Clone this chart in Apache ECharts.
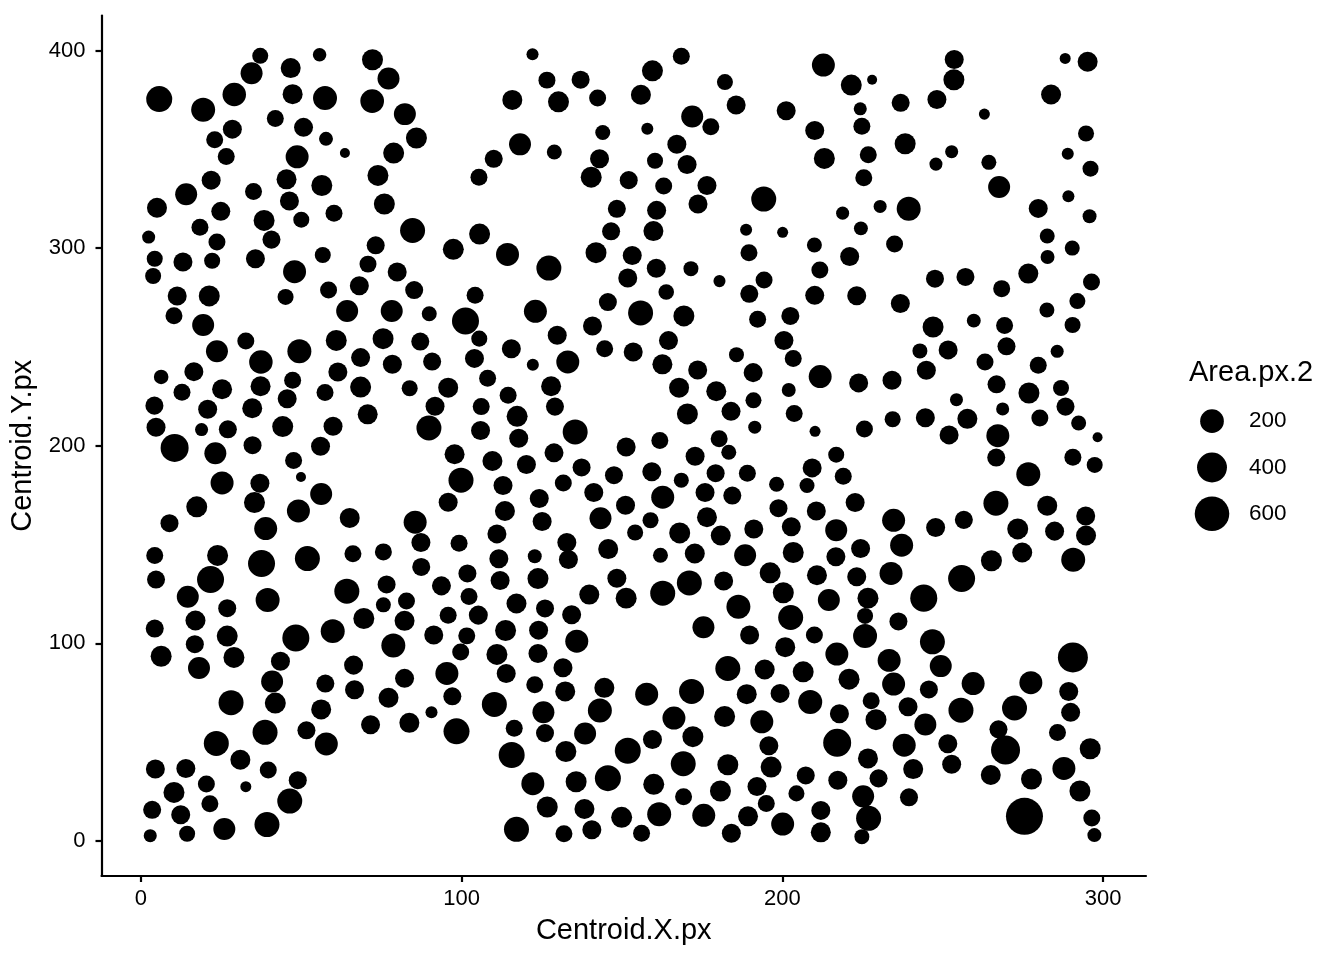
<!DOCTYPE html>
<html><head><meta charset="utf-8">
<style>html,body{margin:0;padding:0;background:#fff}#c{width:1344px;height:960px}</style>
<script src="https://cdn.jsdelivr.net/npm/echarts@6/dist/echarts.min.js"></script>
</head><body><div id="c"></div>
<script>
const xTicks=[0,100,200,300];
const yTicks=[0,100,200,300,400];
const legendAreas=[200,400,600];
// [Centroid.X.px, Centroid.Y.px, Area.px.2]
const cellsTopLeft=[[5.7,375.4,266],[19.4,370,208],[29.1,377.7,195],[34.5,388.5,158],[37.2,397.3,55],[46.7,391.1,116],[55.7,397.8,32],[72.2,395.3,136],[77.2,385.8,158],[47.3,377.9,116],[57.4,375.9,208],[72.1,374.4,200],[82.3,367.8,158],[41.9,365.6,67],[50.7,361.1,98],[57.7,355.3,35],[85.9,355.7,136],[28.5,360.2,98],[23,354.8,67],[26.6,346.4,67],[63.6,348.1,20],[48.7,346.2,182],[78.8,348.1,136],[73.9,336.8,136],[21.9,334.4,98],[45.4,334.8,116],[56.4,331.7,136],[14.1,327.3,158],[35.1,328.7,67],[5,320.4,116],[46.3,323.8,98],[75.9,322.3,136],[24.9,318.6,98],[60.2,317.7,67],[38.4,314,136],[50,314.4,55],[18.4,310.5,67],[2.4,305.6,29],[23.7,303.1,67],[40.7,304.3,82],[84.7,308.9,236],[73.2,301.4,82],[56.7,296.5,55],[4.3,294.6,55],[13.1,293,98],[22.2,293.6,55],[35.7,294.6,98],[70.8,291.9,67],[47.9,288.1,182],[79.9,287.9,98],[3.8,285.9,55],[68.1,281,98],[58.5,278.8,67],[85.2,278.8,82],[11.3,275.8,98],[21.3,275.8,136],[45.1,275.3,55]];
const cellsMidLeft=[[10.3,265.8,67],[19.4,261.1,158],[32.7,253,67],[23.7,247.8,158],[37.4,242.4,195],[49.4,247.8,208],[60.9,253.3,136],[75.5,254.2,136],[87.1,252.7,82],[68.5,244.6,98],[78.4,241.2,98],[90.8,242.6,82],[64.3,268.2,158],[78.2,268.2,158],[89.9,266.8,44],[6.3,234.8,40],[16.5,237.5,98],[61.4,237.3,98],[12.8,227.1,67],[25.3,228.6,116],[37.3,230.1,116],[47.3,233.1,67],[45.6,223.8,98],[57.4,226.9,67],[68.5,229.7,136],[83.8,229.1,55],[95.8,229.4,116],[4.2,220.3,82],[20.8,218.5,98],[34.7,219,116],[70.7,215.9,116],[91.7,220,98],[4.7,209.4,98],[18.9,208.2,29],[27.1,208.3,82],[44.2,209.7,136],[59.9,209.9,98],[89.8,209,236],[10.5,198.9,331],[23.2,196.2,158],[34.8,200.3,82],[56,199.7,98],[47.6,192.5,67],[97.8,195.7,116],[49.9,184.2,20],[25.3,181.2,182],[37.1,181,98],[56.2,175.6,158],[35.4,171.3,136],[49.1,167,182],[17.4,169.1,136],[65.1,163.5,116],[8.9,160.8,82],[38.9,158.1,182],[85.5,161.3,182],[95.8,171.4,98],[99.8,182.6,236],[87.3,151,98],[4.3,144.5,67],[23.9,144.5,136],[37.6,140.4,298],[51.9,142.9,236],[66.1,145.3,67],[75.6,146.3,67],[87.4,138.7,82]];
const cellsBottomLeft=[[4.7,132.3,82],[21.7,132.3,298],[14.6,123.6,158],[26.9,117.8,82],[39.5,122,208],[64.2,126.4,236],[76.6,129.8,82],[82.8,121.5,67],[75.6,119.5,44],[93.7,129.1,98],[17,111.6,116],[4.3,107.5,82],[69.5,112.6,136],[82.2,111.4,116],[95.8,114.2,67],[59.8,106.2,208],[48.3,102.7,298],[16.8,99.6,82],[26.9,103.7,136],[91.3,104.2,98],[78.7,98.9,208],[6.3,93.5,136],[18.1,87.5,158],[29,92.9,136],[43.5,91,98],[66.3,89,98],[40.9,80.7,158],[57.5,79.7,82],[66.6,76.5,98],[82.2,82.3,98],[95.4,84.8,182],[97.1,73.2,82],[77.2,72.5,116],[28.1,70,236],[41.9,69.8,136],[56.2,66.6,116],[90.6,65.2,24],[71.6,58.8,98],[83.7,59.8,116],[98.4,55.5,266],[38.7,55,236],[51.6,56,82],[57.8,49.1,182],[23.5,49.4,236],[31,41.1,116],[4.5,36.4,98],[14,36.7,98],[39.7,35.9,67],[20.4,28.8,67],[10.3,24.6,136],[48.9,30.8,82],[32.7,27.5,21],[46.4,20.2,236],[3.5,15.8,82],[21.5,18.9,67],[12.4,13.3,98],[26,6.1,158],[39.3,8.3,236],[2.9,2.7,29],[14.4,3.7,55]];
const cellsTopCentre=[[122.1,398.1,24],[126.6,385,67],[137.1,385.2,82],[115.8,375,116],[130.2,374,136],[142.4,376,67],[159.5,389.7,136],[168.5,397.1,67],[182.1,384,55],[155.9,377.6,116],[171.9,366.6,158],[177.7,361.4,67],[185.6,372.4,98],[201.2,369.5,98],[144,358.5,44],[157.9,360.4,24],[118.2,352.5,158],[128.9,348.6,44],[143,345.2,98],[110,345.2,82],[105.4,335.8,67],[140.4,335.9,136],[152.1,334.4,82],[167.1,352.6,98],[160.3,344.2,55],[170.3,342.3,98],[163,331.4,67],[176.5,331.7,98],[173.7,322.3,98],[194.2,324.8,236],[148.4,319.9,82],[160.8,319.1,98],[146.6,308.5,82],[159.8,308.6,116],[188.7,309.3,24],[200.1,308,21],[189.6,297.7,67],[105.6,307.1,136],[97.4,299.4,136],[114.3,296.8,182],[127.2,289.9,236],[141.9,297.7,136],[153.2,296.3,98],[160.7,289.8,98],[171.5,289.6,44],[151.8,284.9,98],[163.8,277.8,50],[180.4,283.3,24],[194.3,283.9,67],[189.7,276.9,82],[104.2,276.1,67],[145.6,272.7,82]];
const cellsMidCentre=[[101.2,263.1,298],[123,268,182],[155.8,267.2,236],[169.3,265.7,136],[140.8,260.6,98],[105.5,254.2,55],[115.5,249.1,98],[129.8,255.9,98],[144.6,249.1,67],[164.5,253.2,98],[153.5,247.4,98],[104,244.2,98],[122.2,241,24],[133.1,242.4,182],[162.6,241.2,116],[173.6,238.3,98],[185.7,246.1,44],[192.3,264,67],[202.5,265.7,82],[200.5,253.3,98],[203.4,244.1,67],[190.9,237,98],[108.1,234.1,67],[127.9,230.1,116],[114.5,225.5,67],[167.8,229.4,116],[179.4,227.6,116],[191,223,55],[202,228.2,35],[106.1,219.8,67],[129.1,219.8,82],[117.3,214.9,136],[170.4,216.1,136],[184,217.4,98],[203.7,216.3,67],[191.4,209.4,29],[105.9,207.7,98],[117.8,203.8,98],[135.4,207,236],[151.3,199.4,98],[161.8,202.6,67],[180.3,203.5,67],[183.3,196.7,44],[172.8,194.7,98],[109.6,192.3,116],[128.8,196.4,98],[120.2,190.5,98],[137.4,189,82],[147.5,185.1,82],[159.3,186.8,98],[168.5,182.6,44],[179.2,186.1,82],[189.1,186.1,67],[198.2,180.5,44],[112.9,179.9,98],[131.7,181.2,67],[141.2,176.3,98],[162.7,174,182],[175.9,176.3,98],[184.4,174.8,82],[124.2,173.3,98],[151.1,169.9,98],[113.5,167,116],[198.8,168.4,82],[143.3,163.3,158],[158.9,162.3,55],[176.5,163.8,116],[125.1,161.7,98],[191.1,157.9,98],[202.8,159,98],[111,155.4,98],[154.1,156.1,55],[168,155.9,136],[180.8,154.6,116],[99.2,150.7,67],[132.8,151,98],[145.7,147.7,116],[162,144.6,44],[172.7,145.5,116],[188.4,144.6,158],[203.4,146,136],[111.6,142.8,98],[122.8,144.1,35],[133.3,142.4,98],[101.8,135.4,82]];
const cellsBottomCentre=[[112,131.8,98],[123.8,132.8,136],[148.4,133,98],[162.7,125.4,236],[171,130.6,236],[181.7,131.6,98],[196.2,135.7,136],[102.3,123.7,67],[117.1,120.2,116],[126,117.7,82],[139.8,124.7,116],[151.3,122.9,136],[134.3,114.5,98],[105.2,114.3,98],[186.3,118.5,208],[200.3,125.6,136],[202.6,113.1,236],[175.4,108.2,158],[113.7,106.5,136],[124,106.7,98],[101.6,103.8,67],[189.8,104.2,98],[135.9,101.1,182],[99.7,95.6,67],[111,94.4,136],[123.8,94.9,98],[200.9,98.1,116],[131.6,87.7,98],[183,87.3,236],[194.5,86.8,116],[206.5,85.6,136],[113.9,84.8,98],[122.8,79.1,67],[132.3,75.7,116],[144.5,77.5,116],[157.7,74.3,182],[171.7,75.7,236],[188.9,74.3,116],[199.3,74.7,98],[110.2,69.1,236],[125.5,65.2,158],[143.1,66,208],[166.2,62.2,182],[182,63,136],[193.6,60.3,182],[116.4,57,67],[126,54.6,82],[138.5,54.4,158],[172.1,52.8,136],[159.5,51.4,98],[195.8,48.2,98],[115.6,43.5,266],[132.5,45.3,136],[151.8,45.7,266],[169.1,39.1,236],[183,38.6,136],[196.5,37.4,136],[122.2,29,182],[135.7,30,136],[145.6,31.8,266],[159.9,28.7,136],[180.7,25.3,136],[192.1,27.6,98],[204.4,24.1,55],[169.2,22.4,67],[195,19,67],[126.7,17.2,136],[138.3,16.2,116],[161.6,13.5,208],[149.9,12,136],[175.5,13,182],[189.3,12.5,116],[200.1,8.6,182],[117.1,5.9,236],[131.9,3.7,67],[140.6,5.7,98],[156.1,3.9,67],[184.1,3.9,98]];
const cellsTopRight=[[212.8,392.6,182],[221.5,382.5,136],[228,385.2,20],[253.6,395.4,98],[253.5,385.2,136],[248.2,375.2,98],[236.9,373.5,82],[224.3,370.5,29],[224.8,361.7,67],[210.1,359.5,98],[288.2,396,21],[295.2,394.3,116],[283.8,377.7,116],[263,367.8,21],[294.7,358,55],[238.3,352.8,136],[226.8,347.2,67],[213.1,345.4,136],[225.4,335.6,67],[252.8,348.8,29],[247.9,342.5,29],[264.4,343.4,44],[289,347.7,24],[296.1,340.2,55],[267.6,330.9,158],[239.4,319.9,208],[289.2,326.2,24],[218.8,317.7,29],[230.5,321.1,29],[279.8,320.1,98],[295.8,316.1,35],[224.5,310,35],[282.6,306.1,44],[290.4,300,44],[210,301.6,44],[235,302.1,67],[221,295.8,98],[282.7,295.5,35],[211.7,288.9,67],[247.6,284.5,82],[257.1,285.4,82],[276.7,287.1,116],[296.4,282.8,67],[268.4,279.5,67],[210.1,276.1,98],[223.2,275.9,98],[236.8,272,98],[292,273.2,55]];
const cellsMidRight=[[282.5,268.7,44],[247,260.1,136],[259.7,263.3,35],[269.3,260.8,67],[290.5,261.1,55],[242.9,248,44],[251.7,248.5,98],[269.9,250.3,82],[285.7,247.8,29],[263.2,242.4,67],[279.8,240.7,67],[244.9,238.2,98],[211.8,235,182],[223.8,231.8,98],[234.2,233.1,98],[266.8,231.1,82],[276.9,226.7,136],[286.9,229.2,55],[254.3,223.3,29],[288.3,219.8,82],[268.7,218.6,29],[257.7,213.6,116],[244.6,214.2,98],[234.4,213.4,55],[280.3,214.1,67],[292.4,211.5,44],[225.6,208.5,67],[210.2,207.3,21],[252,205.5,98],[267.2,205.1,182],[298.3,204.3,20],[216.8,195.5,55],[266.7,194,82],[290.6,194.2,67],[209.3,188.8,98],[297.4,190.3,55],[276.7,185.6,208],[219,184.6,67],[207.7,179.9,44],[266.6,170.9,236],[282.6,169.7,116],[222.7,171.3,98],[210.6,167,98],[294.6,164.5,98],[234.7,162.3,182],[256.6,162.5,82],[247.8,158.6,98],[273.4,157.9,136],[284.9,156.8,98],[294.7,154.6,116],[216.8,157.3,158],[237.2,149.7,182],[224.4,148,98],[216.7,143.8,98],[274.8,146,116],[265.2,141.8,136],[290.7,142.3,208],[210.8,134.5,116],[223.2,133.7,98],[233.9,135.4,182],[255.9,132.8,298]];
const cellsBottomRight=[[214.5,122,158],[226.7,122.9,136],[244.1,122.9,298],[225.8,113.9,55],[236.2,111.1,82],[210,104.2,67],[225.8,103.7,208],[246.8,100.8,236],[217,94.6,182],[233.3,91.4,182],[249.4,88.5,158],[290.6,92.9,404],[220.8,81.9,136],[234.7,79.4,182],[259.5,79.7,182],[277.5,80.1,182],[245.7,76.7,82],[289.3,75.7,98],[208.7,70.3,208],[227.7,71,67],[239.2,67.9,98],[255.7,66.2,236],[272.4,67.3,236],[289.9,65.1,98],[217.8,64.4,98],[229.2,61.4,136],[244.6,59,158],[267.4,56.5,82],[217.1,49.7,331],[238,48.5,182],[251.6,49.2,98],[285.8,54.9,67],[269.6,46,367],[296,46.7,136],[226.7,41.8,116],[252.8,38.8,98],[240.8,36.4,116],[287.8,36.7,182],[207.3,33.2,82],[217.3,30.7,98],[230,31.7,82],[265,33.4,116],[277.7,31.4,136],[292.8,25.3,136],[225.2,22.6,158],[239.5,22.1,82],[212,15.5,98],[226.9,11.5,236],[275.5,12.5,720],[296.5,11.6,67],[212,4.4,116],[224.8,2.2,44],[297.3,3,35]];

const allCells=[].concat(cellsTopLeft,cellsMidLeft,cellsBottomLeft,cellsTopCentre,cellsMidCentre,cellsBottomCentre,cellsTopRight,cellsMidRight,cellsBottomRight);
const sizeOf=a=>10+1.02*Math.sqrt(Math.max(a-20,0));
const FONT='"Liberation Sans", Arial, sans-serif';
const chart=echarts.init(document.getElementById('c'),null,{renderer:'canvas'});
chart.setOption({
  animation:false,
  backgroundColor:'#fff',
  textStyle:{fontFamily:FONT,color:'#000'},
  title:{text:'Area.px.2',left:1189,top:358,padding:0,textStyle:{fontFamily:FONT,fontSize:29,fontWeight:'normal',color:'#000'}},
  grid:[
    {left:101.5,top:15.5,width:1044.5,height:860.5},
    {left:1190,top:398,width:44,height:139}
  ],
  xAxis:[
    {type:'value',gridIndex:0,min:-12.3,max:313.4,name:'Centroid.X.px',nameLocation:'middle',nameGap:40,
     nameTextStyle:{fontFamily:FONT,fontSize:29,color:'#000'},
     axisLine:{onZero:false,lineStyle:{color:'#000',width:2.2}},
     axisTick:{show:true,length:6,customValues:xTicks,lineStyle:{color:'#000',width:2.2}},
     axisLabel:{show:true,customValues:xTicks,margin:12,fontFamily:FONT,fontSize:22,color:'#000'},
     splitLine:{show:false}},
    {type:'value',gridIndex:1,min:0,max:1,show:false}
  ],
  yAxis:[
    {type:'value',gridIndex:0,min:-17.7,max:417.7,name:'Centroid.Y.px',nameLocation:'middle',nameGap:61,
     nameTextStyle:{fontFamily:FONT,fontSize:29,color:'#000'},
     axisLine:{onZero:false,lineStyle:{color:'#000',width:2.2}},
     axisTick:{show:true,length:6,customValues:yTicks,lineStyle:{color:'#000',width:2.2}},
     axisLabel:{show:true,customValues:yTicks,margin:16,fontFamily:FONT,fontSize:22,color:'#000'},
     splitLine:{show:false}},
    {type:'category',gridIndex:1,inverse:true,position:'right',data:legendAreas.map(String),
     axisLine:{show:false},axisTick:{show:false},
     axisLabel:{margin:15,fontFamily:FONT,fontSize:22.5,color:'#000'},splitLine:{show:false}}
  ],
  series:[
    {type:'scatter',xAxisIndex:0,yAxisIndex:0,silent:true,data:allCells,
     symbol:'circle',symbolSize:v=>sizeOf(v[2]),itemStyle:{color:'#000',opacity:1},clip:false,large:false},
    {type:'scatter',xAxisIndex:1,yAxisIndex:1,silent:true,
     data:legendAreas.map(a=>[0.5,String(a),a]),
     symbol:'circle',symbolSize:v=>sizeOf(v[2]),itemStyle:{color:'#000',opacity:1}}
  ]
});
</script></body></html>
